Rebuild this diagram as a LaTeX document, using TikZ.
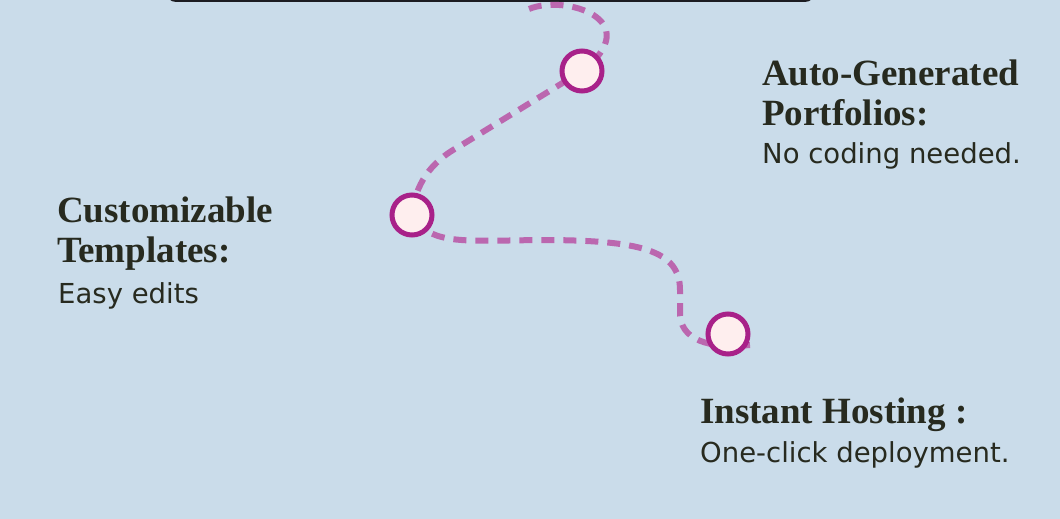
\documentclass[tikz,border=0pt]{standalone}
\usepackage{fontspec}
\setmainfont{DejaVu Sans}
\newfontfamily\headfont{Liberation Serif}
\usetikzlibrary{backgrounds}
\definecolor{skyback}{HTML}{CADCEA}
\definecolor{trailpink}{HTML}{BB67AF}
\definecolor{dotrim}{HTML}{A82189}
\definecolor{dotfill}{HTML}{FEEEEE}
\definecolor{inkdark}{HTML}{272A1F}
\definecolor{barblack}{HTML}{1C1C22}
\tikzset{
  stop/.style={circle, draw=dotrim, line width=5pt, fill=dotfill, minimum size=40pt, inner sep=0pt},
  trail/.style={trailpink, line width=6pt, dash pattern=on 13pt off 9pt},
  headline/.style={anchor=base west, inner sep=0pt, text=inkdark, font=\headfont\bfseries\fontsize{37}{40}\selectfont},
  bodyline/.style={anchor=base west, inner sep=0pt, text=inkdark, font=\fontsize{27.5}{30}\selectfont},
}

\begin{document}
\begin{tikzpicture}[x=1pt, y=-1pt]
\useasboundingbox (0,0) rectangle (1060,519);
% stops along the trail
\node[stop] (portfolios) at (582,71) {};
\node[stop] (templates) at (412,215) {};
\node[stop] (hosting) at (728,334) {};
\coordinate (trailtop) at (529,9);
\coordinate (trailend) at (750,345);
% background, top bar and dashed trail
\begin{scope}[on background layer]
\fill[skyback] (0,0) rectangle (1060,519);
\begin{scope}
\clip (0,0) rectangle (1060,519);
\fill[barblack, rounded corners=10pt] (166,-40) rectangle (815,2);
\end{scope}
\draw[trail] (trailtop) .. controls (565,-6) and (648,20) .. (portfolios.center)
  -- (460,146) .. controls (430,162) and (415,185) .. (templates.center)
  .. controls (430,245) and (460,241) .. (540,240)
  .. controls (640,240) and (680,250) .. (680,290) -- (680,315)
  .. controls (682,345) and (720,348) .. (trailend);
\end{scope}
% labels
\node[headline] (autogen) at (762,85) {Auto-Generated};
\node[headline] (portfoliohead) at (762,125) {Portfolios:};
\node[bodyline] (portfoliotext) at (762,163) {No coding needed.};
\node[headline] (custom) at (57,222) {Customizable};
\node[headline] (templatehead) at (57,262) {Templates:};
\node[bodyline] (templatetext) at (58,303) {Easy edits};
\node[headline] (hostinghead) at (700,423) {Instant Hosting :};
\node[bodyline] (hostingtext) at (700,462) {One-click deployment.};
\end{tikzpicture}
\end{document}
